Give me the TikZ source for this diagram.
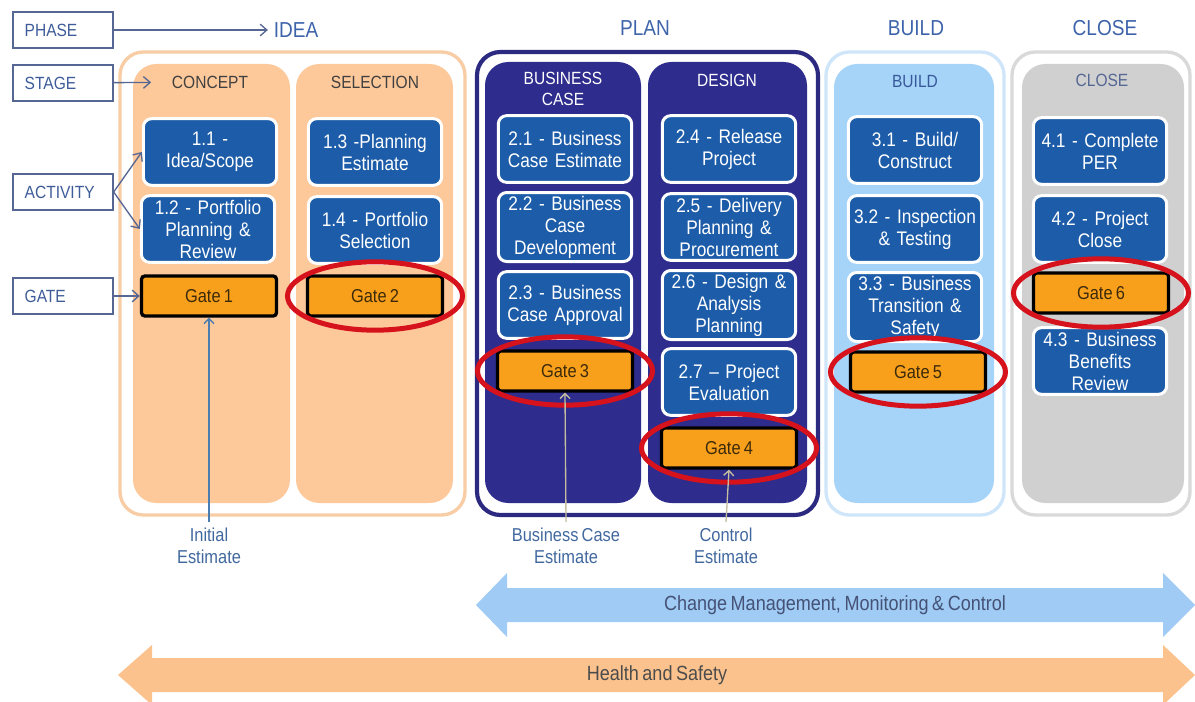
\documentclass[tikz,border=0pt]{standalone}
\usepackage{fontspec}
\setmainfont[FakeStretch=0.88, WordSpace=0.7]{Liberation Sans}
\definecolor{tagline}{HTML}{566794}
\definecolor{tagtext}{HTML}{3E5C99}
\definecolor{titleblue}{HTML}{3D63AA}
\definecolor{ideaborder}{HTML}{F8CDA5}
\definecolor{peach}{HTML}{FDC89A}
\definecolor{navy}{HTML}{2E2C8C}
\definecolor{planborder}{HTML}{2B2A80}
\definecolor{buildborder}{HTML}{CFE5FA}
\definecolor{buildfill}{HTML}{A6D3F8}
\definecolor{closeborder}{HTML}{D9D9D9}
\definecolor{closefill}{HTML}{D0D0D0}
\definecolor{actblue}{HTML}{1C5CA8}
\definecolor{gateorange}{HTML}{F8A01C}
\definecolor{gatetext}{HTML}{3D2A0A}
\definecolor{ringred}{HTML}{D6121C}
\definecolor{cmcblue}{HTML}{9FCBF4}
\definecolor{hsorange}{HTML}{FBC28D}
\definecolor{estblue}{HTML}{4C7DB0}
\definecolor{esttext}{HTML}{41689E}
\definecolor{estpale}{HTML}{C5BF9F}
\usepackage{tikz}
\usetikzlibrary{
    arrows.meta,
    shapes.geometric,
    positioning,
    fit
}
\tikzstyle{tag} = [
    rectangle,
    draw=tagline,
    line width=0.8pt,
    minimum width=60pt,
    minimum height=21.6pt,
    text width=46pt,
    inner xsep=7pt,
    align=left,
    text=tagtext,
    font=\fontsize{10.6}{12}\selectfont
]
\tikzstyle{phasetitle} = [
    text=titleblue,
    font=\fontsize{13}{15}\selectfont
]
\tikzstyle{phasebox} = [
    rectangle,
    rounded corners=14pt,
    line width=2pt,
    fill=white,
    inner sep=0pt
]
\tikzstyle{stagebox} = [
    rectangle,
    rounded corners=14pt,
    inner sep=0pt
]
\tikzstyle{stagehead} = [
    text centered,
    font=\fontsize{10.6}{13}\selectfont
]
\tikzstyle{activity} = [
    rectangle,
    rounded corners=5pt,
    draw=white,
    line width=1.8pt,
    fill=actblue,
    text=white,
    text width=78pt,
    minimum height=40pt,
    inner xsep=1pt,
    inner ysep=2pt,
    text centered,
    font=\fontsize{11.8}{13.2}\selectfont
]
\tikzstyle{gate} = [
    rectangle,
    rounded corners=2pt,
    draw=black,
    line width=2pt,
    fill=gateorange,
    text=gatetext,
    minimum width=81pt,
    minimum height=24pt,
    font=\fontsize{11.2}{13}\selectfont
]
\tikzstyle{ring} = [
    ellipse,
    draw=ringred,
    line width=3pt,
    minimum width=105pt,
    minimum height=41pt
]
\tikzstyle{pointer} = [
    ->,
    >={Straight Barb[length=4pt,width=7pt]},
    line width=0.8pt,
    draw=tagline
]
\tikzstyle{estarrow} = [
    ->,
    >={Straight Barb[length=3pt,width=6pt]},
    line width=0.8pt
]
\tikzstyle{esttext} = [
    text=esttext,
    align=center,
    font=\fontsize{11.2}{13.5}\selectfont
]

\begin{document}
\begin{tikzpicture}[x=0.6pt, y=-0.6pt]
        \useasboundingbox (0,0) rectangle (1195,702);

        % Row tags
        \node[tag] (phasetag) at (63,30) {PHASE};
        \node[tag] (stagetag) at (63,83) {STAGE};
        \node[tag] (activitytag) at (63,192) {ACTIVITY};
        \node[tag] (gatetag) at (63,296) {GATE};

        % Phase titles
        \node[phasetitle] (ideatitle) at (296,30) {IDEA};
        \node[phasetitle] (plantitle) at (645,28) {PLAN};
        \node[phasetitle] (buildtitle) at (916,28) {BUILD};
        \node[phasetitle] (closetitle) at (1105,28) {CLOSE};

        % Phase boxes
        \node[phasebox, draw=ideaborder, fit={(120,52) (465,515)}] (idea) {};
        \node[phasebox, draw=planborder, line width=2.5pt, fit={(477,52) (818,515)}] (plan) {};
        \node[phasebox, draw=buildborder, fit={(826,52) (1004,515)}] (build) {};
        \node[phasebox, draw=closeborder, fit={(1012,52) (1190,515)}] (close) {};

        % Stage columns
        \node[stagebox, fill=peach, fit={(133,64) (290,503)}] (concept) {};
        \node[stagebox, fill=peach, fit={(296,64) (453,503)}] (selection) {};
        \node[stagebox, fill=navy, fit={(485,62) (641,503)}] (business) {};
        \node[stagebox, fill=navy, fit={(648,62) (807,503)}] (design) {};
        \node[stagebox, fill=buildfill, fit={(834,64) (994,503)}] (buildcol) {};
        \node[stagebox, fill=closefill, fit={(1022,64) (1184,503)}] (closecol) {};

        % Stage headings
        \node[stagehead, text=black!75] (concepthead) at (210,82) {CONCEPT};
        \node[stagehead, text=black!75] (selectionhead) at (375,82) {SELECTION};
        \node[stagehead, text=white, align=center] (businesshead) at (563,89) {BUSINESS\\CASE};
        \node[stagehead, text=white] (designhead) at (727,80) {DESIGN};
        \node[stagehead, text=titleblue!90!black] (buildhead) at (915,82) {BUILD};
        \node[stagehead, text=tagline] (closehead) at (1102,80) {CLOSE};

        % Activities
        \node[activity] (a11) at (210,152) {1.1 -\\Idea/Scope};
        \node[activity] (a12) at (208,229) {1.2 - Portfolio\\Planning \&\\Review};
        \node[activity] (a13) at (375,152) {1.3 -Planning\\Estimate};
        \node[activity] (a14) at (375,230) {1.4 - Portfolio\\Selection};
        \node[activity] (a21) at (565,149) {2.1 - Business\\Case Estimate};
        \node[activity] (a22) at (565,227) {2.2 - Business\\Case\\Development};
        \node[activity] (a23) at (565,305) {2.3 - Business\\Case Approval};
        \node[activity] (a24) at (729,149) {2.4 - Release\\Project};
        \node[activity] (a25) at (729,227) {2.5 - Delivery\\Planning \&\\Procurement};
        \node[activity] (a26) at (729,305) {2.6 - Design \&\\Analysis\\Planning};
        \node[activity] (a27) at (729,382) {2.7 -- Project\\Evaluation};
        \node[activity] (a31) at (915,150) {3.1 - Build/\\Construct};
        \node[activity] (a32) at (915,229) {3.2 - Inspection\\\& Testing};
        \node[activity] (a33) at (915,307) {3.3 - Business\\Transition \&\\Safety};
        \node[activity] (a41) at (1100,151) {4.1 - Complete\\PER};
        \node[activity] (a42) at (1100,229) {4.2 - Project\\Close};
        \node[activity] (a43) at (1100,361) {4.3 - Business\\Benefits\\Review};

        % Gates
        \node[gate] (gate1) at (209,296) {Gate 1};
        \node[gate] (gate2) at (375,296) {Gate 2};
        \node[gate] (gate3) at (565,371) {Gate 3};
        \node[gate] (gate4) at (729,448) {Gate 4};
        \node[gate] (gate5) at (918,372) {Gate 5};
        \node[gate] (gate6) at (1101,293) {Gate 6};

        % Highlighted gates
        \node[ring] (ring2) at (gate2) {};
        \node[ring] (ring3) at (gate3) {};
        \node[ring] (ring4) at (gate4) {};
        \node[ring] (ring5) at (gate5) {};
        \node[ring] (ring6) at (gate6) {};

        % Tag pointers
        \draw[pointer] (phasetag) -- (ideatitle);
        \draw[pointer, shorten >=9pt] (stagetag) -- (concepthead);
        \draw[pointer] (activitytag.east) -- (a11.west);
        \draw[pointer] (activitytag.east) -- (a12.west);
        \draw[pointer] (gatetag) -- (gate1);

        % Estimates
        \node[esttext] (initest) at (209,546) {Initial\\Estimate};
        \node[esttext] (bcest) at (566,546) {Business Case\\Estimate};
        \node[esttext] (ctrlest) at (726,546) {Control\\Estimate};
        \draw[estarrow, draw=estblue] (initest.north) -- (gate1.south);
        \draw[estarrow, draw=estpale] (bcest.north) -- (gate3.south);
        \draw[estarrow, draw=estpale] (ctrlest.north) -- (gate4.south);

        % Bands
        \fill[cmcblue] (476,605) -- (507,573) -- (507,588) -- (1163,588) -- (1163,573)
            -- (1195,605) -- (1163,637) -- (1163,622) -- (507,622) -- (507,637) -- cycle;
        \node[text=tagline!80!black, font=\fontsize{12.3}{14}\selectfont] (cmc) at (835,605) {Change Management, Monitoring \& Control};
        \fill[hsorange] (118,675) -- (152,645) -- (152,658) -- (1163,658) -- (1163,645)
            -- (1195,675) -- (1163,705) -- (1163,692) -- (152,692) -- (152,705) -- cycle;
        \node[text=black!70, font=\fontsize{12.3}{14}\selectfont] (hs) at (657,675) {Health and Safety};
    \end{tikzpicture}
\end{document}
